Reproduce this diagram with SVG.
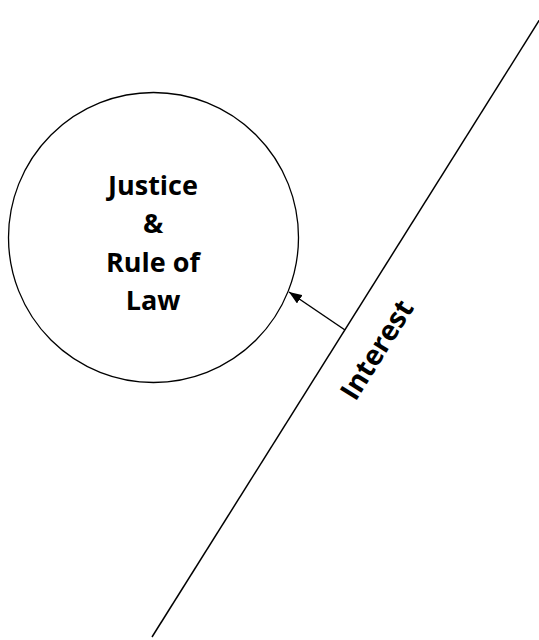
<svg xmlns="http://www.w3.org/2000/svg" width="539" height="640" viewBox="0 0 539 640">
<style>
.lbl{font-family:"Open Sans","Noto Sans","DejaVu Sans",sans-serif;font-weight:bold;font-size:27px;fill:#000;text-anchor:middle}
.ln{stroke:#000;stroke-width:1.5;fill:none}
</style>
<defs>
<marker id="ah" viewBox="0 0 13 10" refX="13" refY="5" markerWidth="13" markerHeight="10" markerUnits="userSpaceOnUse" orient="auto">
<path d="M0,0 L13,5 L0,10 Z" fill="#000"/>
</marker>
</defs>
<rect width="539" height="640" fill="#fff"/>
<g id="node-justice">
<circle cx="153.5" cy="237.5" r="145" fill="none" stroke="#000" stroke-width="1.3"/>
<text class="lbl" x="153" y="195">Justice</text>
<text class="lbl" x="153" y="233">&amp;</text>
<text class="lbl" x="153" y="272">Rule of</text>
<text class="lbl" x="153" y="310">Law</text>
</g>
<g id="node-interest">
<line class="ln" x1="552" y1="0" x2="152" y2="637"/>
<text class="lbl" style="font-size:28px" transform="translate(385,355) rotate(-58)">Interest</text>
</g>
<g id="connectors">
<line class="ln" x1="345" y1="330" x2="289" y2="292" marker-end="url(#ah)"/>
</g>
</svg>
